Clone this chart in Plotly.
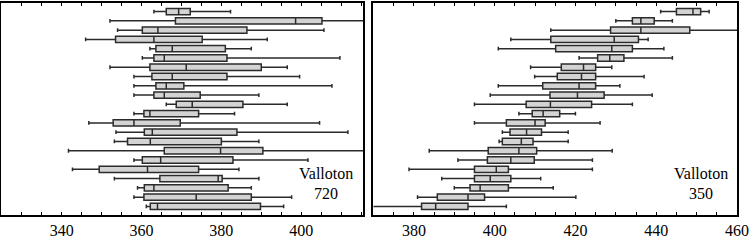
import plotly.graph_objects as go

# Row positions (top row = 22, bottom row = 1)
rows = list(range(22, 0, -1))

# Left panel: Valloton 720
left_lower = [363.1, 352.1, 354.0, 346.0, 362.1, 360.2, 352.1, 358.1, 358.1, 358.1, 366.2,
              358.1, 346.8, 353.6, 353.2, 341.7, 358.1, 342.7, 353.2, 359.0, 358.1, 361.2]
left_q1 = [366.2, 368.5, 360.2, 353.5, 363.6, 363.1, 362.1, 362.6, 363.6, 363.1, 368.7,
           360.6, 352.9, 360.7, 356.5, 365.7, 360.2, 349.4, 364.6, 360.7, 360.6, 362.2]
left_median = [369.3, 398.6, 364.1, 363.1, 367.7, 365.7, 371.2, 367.7, 366.2, 365.7, 372.7,
               362.1, 358.1, 362.7, 362.2, 379.8, 364.8, 361.5, 379.2, 363.1, 373.7, 364.0]
left_q3 = [372.2, 405.2, 386.4, 375.2, 381.0, 381.4, 390.0, 381.4, 370.6, 374.7, 385.4,
           374.3, 369.7, 383.9, 380.0, 390.4, 382.9, 374.3, 380.2, 381.7, 387.5, 389.8]
left_upper = [382.3, 420.0, 405.7, 391.5, 387.5, 409.7, 396.5, 399.6, 407.7, 389.4, 396.5,
              383.3, 404.6, 411.7, 389.4, 420.0, 401.7, 384.4, 389.4, 387.5, 397.6, 395.6]

# Right panel: Valloton 350
right_lower = [441.1, 430.0, 413.9, 404.0, 400.9, 420.9, 408.9, 409.9, 400.9, 398.9, 395.0,
               406.0, 395.0, 401.9, 401.1, 383.8, 390.9, 378.8, 386.9, 390.0, 380.9, 365.0]
right_q1 = [445.0, 434.1, 428.7, 413.9, 415.1, 425.5, 416.5, 415.5, 411.9, 413.7, 407.8,
            409.3, 402.9, 403.8, 401.9, 398.4, 398.2, 395.0, 395.0, 393.9, 385.8, 381.9]
right_median = [449.1, 436.2, 436.2, 429.6, 429.0, 428.5, 422.0, 421.5, 420.9, 420.5, 413.8,
                412.0, 410.0, 407.9, 406.6, 406.0, 404.0, 400.4, 398.9, 396.4, 393.4, 385.4]
right_q3 = [451.0, 439.5, 448.3, 435.6, 434.1, 432.0, 425.0, 425.0, 425.0, 427.1, 424.0,
            416.1, 412.5, 411.6, 409.5, 410.4, 409.8, 403.4, 404.0, 403.4, 397.5, 393.4]
right_upper = [453.1, 444.0, 465.0, 438.0, 441.9, 444.0, 429.0, 437.0, 431.0, 439.0, 434.1,
               420.0, 426.1, 418.2, 418.2, 429.1, 424.2, 424.2, 411.4, 414.5, 420.1, 402.9]

left_tickvals = list(range(325, 416, 5))
left_ticktext = [str(v) if v % 20 == 0 else "" for v in left_tickvals]
right_tickvals = list(range(370, 461, 5))
right_ticktext = [str(v) if v % 20 == 0 else "" for v in right_tickvals]

left_label = ["Valloton", "720"]
right_label = ["Valloton", "350"]

FONT = "Liberation Serif"
box_style = dict(orientation="h", boxpoints=False, width=0.68, whiskerwidth=0.6,
                 fillcolor="#d3d3d3", line=dict(color="#2b2b2b", width=1.5),
                 showlegend=False, hoverinfo="skip")

fig = go.Figure()
fig.add_trace(go.Box(y=rows, q1=left_q1, median=left_median, q3=left_q3,
                     lowerfence=left_lower, upperfence=left_upper,
                     xaxis="x", yaxis="y", **box_style))
fig.add_trace(go.Box(y=rows, q1=right_q1, median=right_median, q3=right_q3,
                     lowerfence=right_lower, upperfence=right_upper,
                     xaxis="x2", yaxis="y2", **box_style))

xcommon = dict(showline=True, linecolor="black", linewidth=1.5, mirror="ticks",
               ticks="inside", ticklen=3, tickwidth=1, tickcolor="black",
               showgrid=False, zeroline=False,
               tickfont=dict(family=FONT, size=16, color="black"))
ycommon = dict(showline=True, linecolor="black", linewidth=1.5, mirror=True,
               ticks="", showticklabels=False, showgrid=False, zeroline=False,
               range=[0.075, 22.925])

fig.update_layout(
    width=750, height=240,
    margin=dict(l=1, r=12, t=1, b=16),
    paper_bgcolor="white", plot_bgcolor="white",
    xaxis=dict(domain=[0, 0.4925], range=[324.8, 415.6],
               tickmode="array", tickvals=left_tickvals, ticktext=left_ticktext, **xcommon),
    yaxis=dict(anchor="x", **ycommon),
    xaxis2=dict(domain=[0.5061, 1], range=[370, 460], anchor="y2",
                tickmode="array", tickvals=right_tickvals, ticktext=right_ticktext, **xcommon),
    yaxis2=dict(anchor="x2", **ycommon),
)

ann_font = dict(family=FONT, size=16, color="black")
for txt, yv in zip(left_label, [4.59, 2.36]):
    fig.add_annotation(x=406.1, y=yv, xref="x", yref="y", text=txt, showarrow=False,
                       font=ann_font, xanchor="center", yanchor="middle")
for txt, yv in zip(right_label, [4.59, 2.36]):
    fig.add_annotation(x=451.0, y=yv, xref="x2", yref="y2", text=txt, showarrow=False,
                       font=ann_font, xanchor="center", yanchor="middle")

fig.write_html("out.html", config={"displayModeBar": False},
               post_script="document.body.style.margin='0';")
